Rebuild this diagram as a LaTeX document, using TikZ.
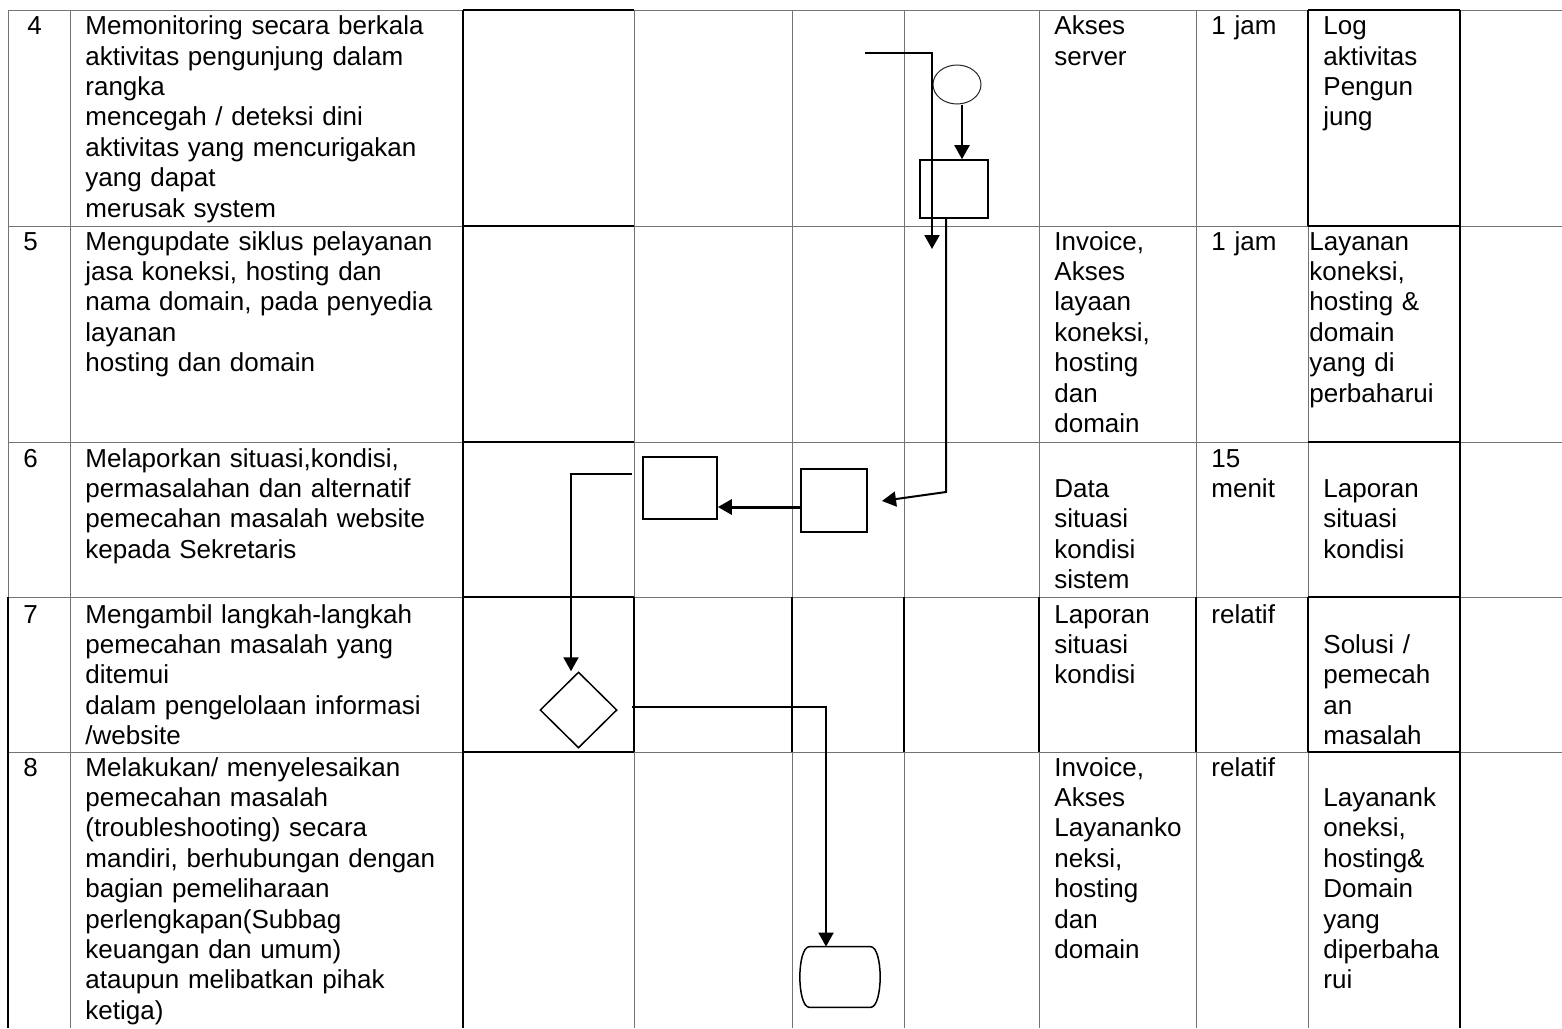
\documentclass[tikz,border=0pt]{standalone}
\usepackage{fontspec}
\setmainfont{Liberation Sans}
\usetikzlibrary{arrows.meta,shapes.geometric}
\newcommand\cellfont{\fontsize{13pt}{15.2pt}\selectfont}
\begin{document}
\begin{tikzpicture}[x=0.5pt,y=-0.5pt,
  thin rule/.style={draw=black!55,line width=0.5pt},
  heavy rule/.style={draw=black,line width=1pt},
  celltext/.style={anchor=base west,inner sep=0pt,align=left,text width=200pt,font=\cellfont},
  flow/.style={-{Triangle[length=7pt,width=7.5pt]},line width=1pt},
  procbox/.style={draw,rectangle,line width=0.8pt,inner sep=0pt},
]
\fill[white] (0,0) rectangle (1562,1028);
\useasboundingbox (0,0) rectangle (1562,1028);

% table grid
\foreach \y in {10,226,442,597,752} \draw[thin rule] (8,\y) -- (1562,\y);
\foreach \x in {8,70,463,634,792,904,1039,1196,1308,1460} \draw[thin rule] (\x,10) -- (\x,1028);

% heavier borders
\draw[heavy rule] (463,10) -- (463,1028);
\draw[heavy rule] (1460,10) -- (1460,1028);
\foreach \y in {10,226,442,597,752} {
  \draw[heavy rule] (463,\y) -- (634,\y);
  \draw[heavy rule] (1308,\y) -- (1460,\y);
}
\draw[heavy rule] (1308,10) -- (1308,226);
\foreach \x in {634,792,904,1039,1196,1308} \draw[heavy rule] (\x,597) -- (\x,752);
\draw[heavy rule] (8,597) -- (8,1028);

% row 4
\node[celltext] (n4) at (27,34.6) {4};
\node[celltext] (t4) at (85,34.6) {Memonitoring secara berkala\\aktivitas pengunjung dalam\\rangka\\mencegah / deteksi dini\\aktivitas yang mencurigakan\\yang dapat\\merusak system};
\node[celltext] (i4) at (1054,34.6) {Akses\\server};
\node[celltext] (w4) at (1211,34.6) {1 jam};
\node[celltext] (o4) at (1323,34.6) {Log\\aktivitas\\Pengun\\jung};

% row 5
\node[celltext] (n5) at (23,250) {5};
\node[celltext] (t5) at (85,250) {Mengupdate siklus pelayanan\\jasa koneksi, hosting dan\\nama domain, pada penyedia\\layanan\\hosting dan domain};
\node[celltext] (i5) at (1054,250) {Invoice,\\Akses\\layaan\\koneksi,\\hosting\\dan\\domain};
\node[celltext] (w5) at (1211,250) {1 jam};
\node[celltext] (o5) at (1309,250) {Layanan\\koneksi,\\hosting \&\\domain\\yang di\\perbaharui};

% row 6
\node[celltext] (n6) at (23,467) {6};
\node[celltext] (t6) at (85,467) {Melaporkan situasi,kondisi,\\permasalahan dan alternatif\\pemecahan masalah website\\kepada Sekretaris};
\node[celltext] (i6) at (1054,497.4) {Data\\situasi\\kondisi\\sistem};
\node[celltext] (w6) at (1211,467) {15\\menit};
\node[celltext] (o6) at (1323,497.4) {Laporan\\situasi\\kondisi};

% row 7
\node[celltext] (n7) at (23,623) {7};
\node[celltext] (t7) at (85,623) {Mengambil langkah-langkah\\pemecahan masalah yang\\ditemui\\dalam pengelolaan informasi\\/website};
\node[celltext] (i7) at (1054,623) {Laporan\\situasi\\kondisi};
\node[celltext] (w7) at (1211,623) {relatif};
\node[celltext] (o7) at (1323,653.4) {Solusi /\\pemecah\\an\\masalah};

% row 8
\node[celltext] (n8) at (23,776) {8};
\node[celltext] (t8) at (85,776) {Melakukan/ menyelesaikan\\pemecahan masalah\\(troubleshooting) secara\\mandiri, berhubungan dengan\\bagian pemeliharaan\\perlengkapan(Subbag\\keuangan dan umum)\\ataupun melibatkan pihak\\ketiga)};
\node[celltext] (i8) at (1054,776) {Invoice,\\Akses\\Layananko\\neksi,\\hosting\\dan\\domain};
\node[celltext] (w8) at (1211,776) {relatif};
\node[celltext] (o8) at (1323,806.4) {Layanank\\oneksi,\\hosting\&\\Domain\\yang\\diperbaha\\rui};

% flow symbols
\node[draw=black!85,ellipse,line width=0.5pt,inner sep=0pt,minimum width=24pt,minimum height=19.5pt] (E) at (957,84.5) {};
\node[procbox,minimum width=34pt,minimum height=29pt] (P4) at (954,189) {};
\node[procbox,minimum width=37pt,minimum height=31pt] (A6) at (680,488) {};
\node[procbox,minimum width=33pt,minimum height=31.5pt] (B6) at (834,500.5) {};
\node[draw,diamond,line width=0.75pt,inner sep=0pt,minimum width=38.5pt,minimum height=38pt] (D7) at (578.5,710) {};
% terminator: straight top and bottom, bulging sides
\node[rectangle,inner sep=0pt,minimum width=40pt,minimum height=30pt] (T8) at (840,977) {};
\draw[line width=0.75pt]
  ([xshift=5pt]T8.north west) -- ([xshift=-5pt]T8.north east)
  .. controls ([xshift=1.5pt]T8.north east) and ([xshift=1.5pt]T8.south east) .. ([xshift=-5pt]T8.south east)
  -- ([xshift=5pt]T8.south west)
  .. controls ([xshift=-1.5pt]T8.south west) and ([xshift=-1.5pt]T8.north west) .. cycle;

% connectors
\coordinate (in0) at (865,53);
\coordinate (d5) at (932,249);
\coordinate (k6) at (946,492);
\coordinate (b6in) at (882,501);
\coordinate (s6) at (632,474);
\coordinate (s7) at (632,707);
\coordinate (h6) at ([yshift=-3.25pt]B6.west);

\draw[flow] (in0) -| (d5);
\draw[flow] ([xshift=2.5pt]E.south) -- ([xshift=4pt]P4.north);
\draw[flow] ([xshift=-4pt]P4.south) -- (k6) -- (b6in);
\draw[flow,line width=1.5pt] (h6) -- (h6 -| A6.east);
\draw[flow] (s6) -| ([xshift=-3.75pt]D7.north);
\draw[flow] (s7) -| ([xshift=-7pt]T8.north);
\end{tikzpicture}
\end{document}
